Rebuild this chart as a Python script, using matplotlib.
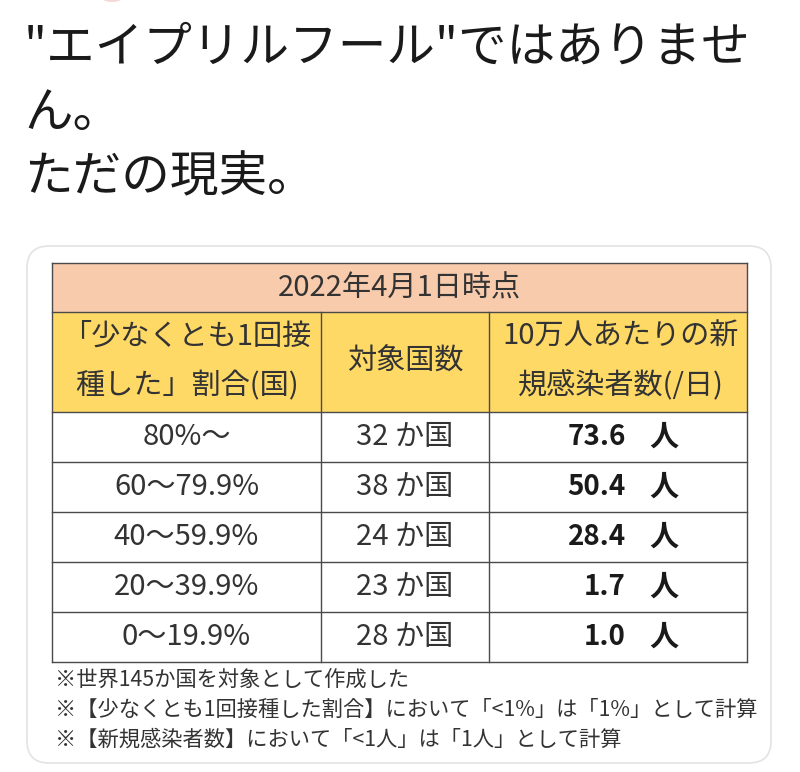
import matplotlib.pyplot as plt
from matplotlib.patches import Rectangle, FancyBboxPatch, Ellipse

plt.rcParams['font.family'] = ['Noto Sans CJK JP', 'DejaVu Sans']

# tweet text
tweet_lines = ['"エイプリルフール"ではありませ', 'ん。', 'ただの現実。']

# table data
table_title = '2022年4月1日時点'
header_1 = ['「少なくとも1回接', '種した」割合(国)']
header_2 = '対象国数'
header_3 = ['10万人あたりの新', '規感染者数(/日)']
rate_bands = ['80%～', '60～79.9%', '40～59.9%', '20～39.9%', '0～19.9%']
n_countries = [32, 38, 24, 23, 28]
new_cases = [73.6, 50.4, 28.4, 1.7, 1.0]
notes = ['※世界145か国を対象として作成した',
         '※【少なくとも1回接種した割合】において「<1%」は「1%」として計算',
         '※【新規感染者数】において「<1人」は「1人」として計算']

W, H = 800, 772
fig = plt.figure(figsize=(W / 100, H / 100), dpi=100)
ax = fig.add_axes([0, 0, 1, 1])
ax.set_xlim(0, W)
ax.set_ylim(H, 0)
ax.axis('off')

# avatar edge peeking in at the top
ax.add_patch(Ellipse((112, -20), 44, 44, color='#f6d6d6', lw=0))

# tweet text
for i, line in enumerate(tweet_lines):
    ax.text(24, 48 + i * 65, line, fontsize=35, color='#1a1a1a', va='center', ha='left')

# card
ax.add_patch(FancyBboxPatch((27, 246), 744, 517, boxstyle='round,pad=0,rounding_size=22',
                            fc='white', ec='#e3e3e3', lw=1.2))

# table geometry
x0, x1, x2, x3 = 52, 321, 489, 747
y_title = (263, 312)
y_head = (312, 412)
row_h = 50
line_c = '#4a4a4a'
txt_c = '#333333'

ax.add_patch(Rectangle((x0, y_title[0]), x3 - x0, y_title[1] - y_title[0], fc='#f8cbad', ec='none'))
ax.add_patch(Rectangle((x0, y_head[0]), x3 - x0, y_head[1] - y_head[0], fc='#ffd966', ec='none'))

n = len(rate_bands)
y_bottom = y_head[1] + n * row_h
# horizontal lines
for y in [y_title[0], y_title[1], y_head[1]] + [y_head[1] + (k + 1) * row_h for k in range(n)]:
    ax.plot([x0, x3], [y, y], color=line_c, lw=1.0)
# vertical lines
ax.plot([x0, x0], [y_title[0], y_bottom], color=line_c, lw=1.0)
ax.plot([x3, x3], [y_title[0], y_bottom], color=line_c, lw=1.0)
for x in [x1, x2]:
    ax.plot([x, x], [y_title[1], y_bottom], color=line_c, lw=1.0)

fs = 21
ax.text((x0 + x3) / 2, 288, table_title, fontsize=fs, color=txt_c, ha='center', va='center')
ax.text((x0 + x1) / 2, 337, header_1[0], fontsize=fs, color=txt_c, ha='center', va='center')
ax.text((x0 + x1) / 2, 386, header_1[1], fontsize=fs, color=txt_c, ha='center', va='center')
ax.text((x1 + x2) / 2, 362, header_2, fontsize=fs, color=txt_c, ha='center', va='center')
ax.text((x2 + x3) / 2 + 3, 337, header_3[0], fontsize=fs, color=txt_c, ha='center', va='center')
ax.text((x2 + x3) / 2 + 3, 386, header_3[1], fontsize=fs, color=txt_c, ha='center', va='center')

for k in range(n):
    yc = y_head[1] + k * row_h + row_h / 2
    ax.text((x0 + x1) / 2, yc, rate_bands[k], fontsize=fs, color=txt_c, ha='center', va='center')
    ax.text((x1 + x2) / 2, yc, f'{n_countries[k]} か国', fontsize=fs, color=txt_c, ha='center', va='center')
    ax.text(626, yc, f'{new_cases[k]:.1f}', fontsize=20, color='#1a1a1a', ha='right', va='center',
            fontweight='bold')
    ax.text(649, yc, '人', fontsize=fs, color='#1a1a1a', ha='left', va='center', fontweight='bold')

for i, note in enumerate(notes):
    ax.text(55, 680 + i * 30, note, fontsize=15.3, color=txt_c, ha='left', va='center')

fig.savefig('out.png', dpi=100, facecolor='white')
